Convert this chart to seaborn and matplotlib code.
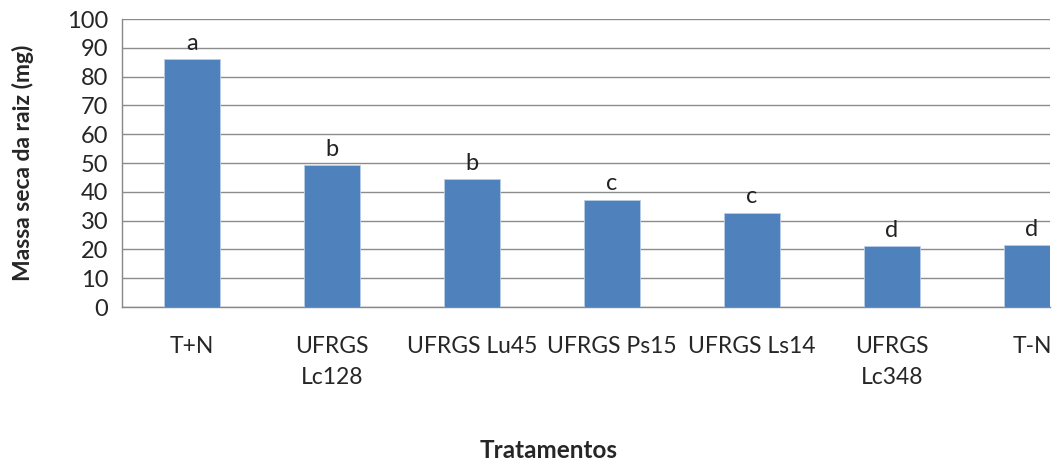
import numpy as np
import seaborn as sns
from matplotlib import pyplot as plt

# data
tratamentos = ['T+N', 'UFRGS\nLc128', 'UFRGS Lu45', 'UFRGS Ps15', 'UFRGS Ls14', 'UFRGS\nLc348', 'T-N']
massa_seca = [86.1, 49.3, 44.3, 37.2, 32.7, 21.1, 21.5]
letras = ['a', 'b', 'b', 'c', 'c', 'd', 'd']

sns.set_style('white')
plt.rcParams['font.family'] = ['Lato', 'DejaVu Sans']

fig = plt.figure(figsize=(10.54, 4.67), dpi=100)
ax = fig.add_axes([122 / 1054, 160 / 467, 928 / 1054, 288 / 467])

sns.barplot(x=list(range(len(tratamentos))), y=massa_seca, color='#4F81BD',
            saturation=1, width=0.4, ax=ax, native_scale=True,
            edgecolor='#B9CDE5', linewidth=0.6, zorder=3)

# significance letters above the bars
for i, (v, l) in enumerate(zip(massa_seca, letras)):
    ax.text(i, v + 3.3, l, ha='center', va='baseline', fontsize=17, color='#222222')

ax.set_ylim(0, 100)
ax.set_yticks(np.arange(0, 101, 10))

# category boundary ticks, labels on minor ticks
ax.set_xticks(np.arange(-0.5, 7, 1))
ax.set_xticklabels([])
ax.set_xticks(range(len(tratamentos)), minor=True)
ax.set_xticklabels(tratamentos, minor=True, fontsize=16.5, linespacing=1.6)
ax.tick_params(axis='x', which='minor', length=0, pad=21)
ax.tick_params(axis='x', which='major', length=8, color='#888888', width=1, direction='out')
ax.tick_params(axis='y', length=6, color='#888888', width=1, direction='out', labelsize=17, pad=4)
# the plot area is cut at the right edge of the picture
ax.set_xlim(-0.5, -0.5 + 928 / 140)

ax.yaxis.grid(True, color='#8c8c8c', linewidth=1)
ax.set_axisbelow(True)
for s in ['top', 'right']:
    ax.spines[s].set_visible(False)
for s in ['left', 'bottom']:
    ax.spines[s].set_color('#888888')
    ax.spines[s].set_linewidth(1)

ax.set_ylabel('Massa seca da raiz (mg)', fontsize=16.5, fontweight='bold')
ax.yaxis.set_label_coords(-88 / 928, 0.5)
ax.set_xlabel('')
fig.text(549 / 1054, 1 - 451 / 467, 'Tratamentos', ha='center', va='center',
         fontsize=17.5, fontweight='bold')

fig.savefig('out.png', dpi=100)
